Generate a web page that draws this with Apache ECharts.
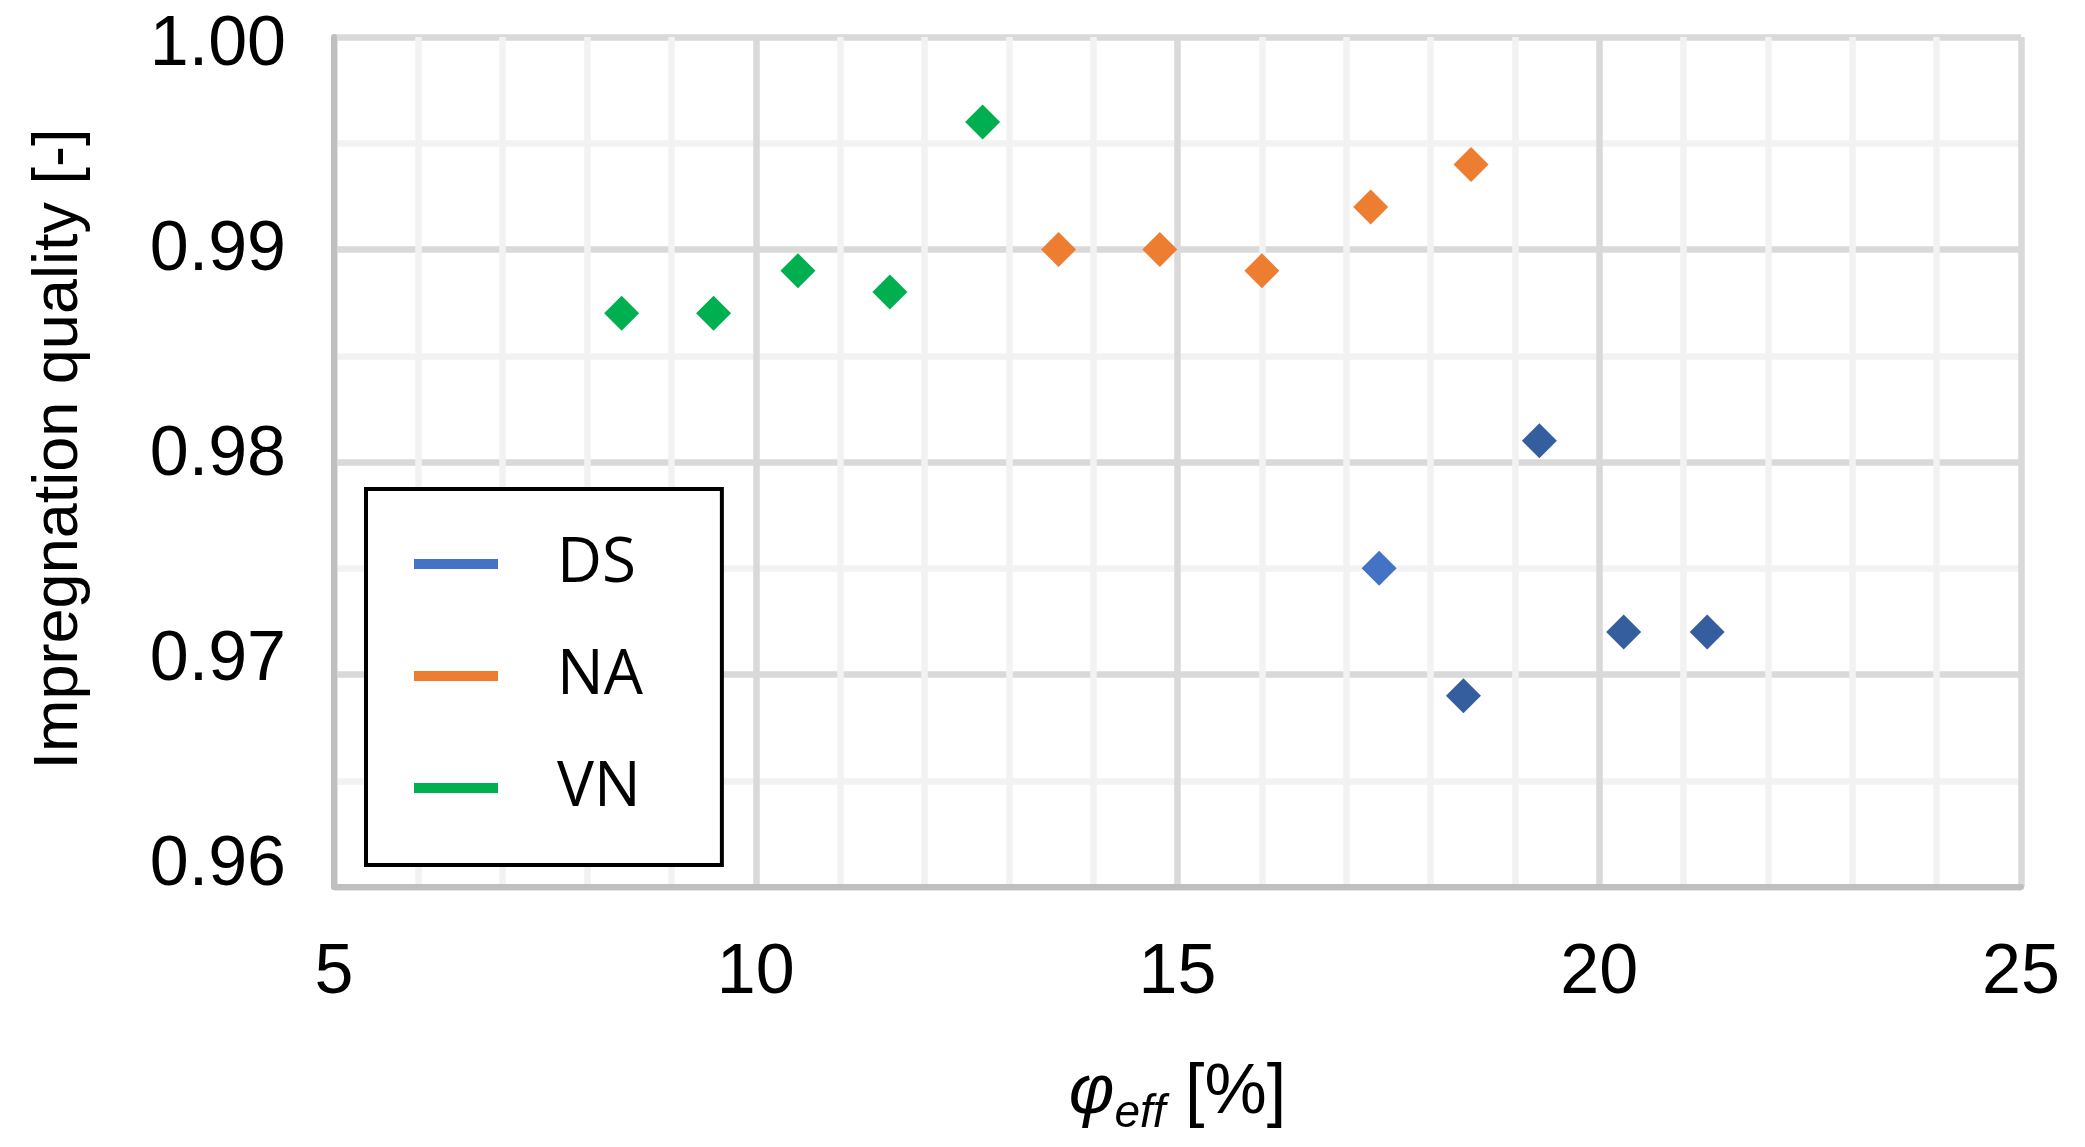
<!DOCTYPE html>
<html>
<head>
<meta charset="utf-8">
<script src="https://cdn.jsdelivr.net/npm/echarts@6/dist/echarts.min.js"></script>
<style>
html,body{margin:0;padding:0;background:#fff;}
#chart{width:2085px;height:1147px;}
</style>
</head>
<body>
<div id="chart"></div>
<script>
// ---- data ----
const seriesNames = ['DS', 'NA', 'VN'];
const dsX = [17.39, 19.29, 18.39, 20.29, 21.28];
const dsY = [0.975, 0.981, 0.969, 0.972, 0.972];
const naX = [13.59, 14.79, 16.00, 17.29, 18.48];
const naY = [0.990, 0.990, 0.989, 0.992, 0.994];
const vnX = [8.41, 9.50, 10.50, 11.59, 12.69];
const vnY = [0.987, 0.987, 0.989, 0.988, 0.996];
const xTicks = [5, 10, 15, 20, 25];
const yTicks = [0.96, 0.97, 0.98, 0.99, 1.00];

const pairs = (xs, ys) => xs.map((x, i) => [x, ys[i]]);

const FONT = "'Liberation Sans', Arial, sans-serif";
const MAJOR = '#d9d9d9', MINOR = '#f2f2f2', AXIS = '#bfbfbf';
const C_DS = '#4472C4', C_DS_DARK = '#355E9E', C_NA = '#ED7D31', C_VN = '#00B050';

// y tick labels in the reference sit slightly inward from their grid lines
const yLabelShift = [-21, -13.5, -6, 1.5, 9]; // px, positive = down
const yRich = {};
yLabelShift.forEach((s, i) => {
  yRich['l' + i] = {
    fontFamily: FONT, fontSize: 70, color: '#000', lineHeight: 70,
    padding: s >= 0 ? [2 * s, 0, 0, 0] : [0, 0, -2 * s, 0]
  };
});

const chart = echarts.init(document.getElementById('chart'), null, {renderer: 'canvas'});
chart.setOption({
  animation: false,
  backgroundColor: '#fff',
  grid: {left: 334, right: 64, top: 37, bottom: 260, containLabel: false, outerBoundsMode: 'none'},
  legend: {
    orient: 'vertical',
    left: 366, top: 489,
    padding: [44, 79, 46, 48],
    itemGap: 50,
    itemWidth: 84, itemHeight: 10,
    backgroundColor: '#fff',
    borderColor: '#000', borderWidth: 4, borderRadius: 0,
    itemStyle: {opacity: 1},
    data: seriesNames.map(n => ({name: n, icon: 'rect'})),
    textStyle: {fontFamily: "'Open Sans', " + FONT, fontSize: 62, color: '#000',
                lineHeight: 48, padding: [14, 0, 0, 54]}
  },
  xAxis: {
    type: 'value', min: xTicks[0], max: xTicks[xTicks.length - 1], interval: 5,
    name: '{phi|φ}{sub|eff}{br| [%]}',
    nameLocation: 'middle', nameGap: 174,
    nameTextStyle: {
      fontFamily: FONT, color: '#000',
      rich: {
        phi: {fontFamily: FONT, fontSize: 70, fontStyle: 'italic', color: '#000', lineHeight: 76, padding: [0, 0, 8, 0], verticalAlign: 'bottom'},
        sub: {fontFamily: FONT, fontSize: 46, fontStyle: 'italic', color: '#000', lineHeight: 52, verticalAlign: 'bottom'},
        br:  {fontFamily: FONT, fontSize: 70, color: '#000', lineHeight: 76, padding: [0, 0, 8, 0], verticalAlign: 'bottom'}
      }
    },
    axisLine: {show: true, onZero: false, lineStyle: {color: AXIS, width: 6}},
    axisTick: {show: false},
    axisLabel: {fontFamily: FONT, fontSize: 70, color: '#000', margin: 52},
    splitLine: {show: true, lineStyle: {color: MAJOR, width: 6.5}},
    minorTick: {show: false, splitNumber: 5},
    minorSplitLine: {show: true, lineStyle: {color: MINOR, width: 6.5}}
  },
  yAxis: {
    type: 'value', min: yTicks[0], max: yTicks[yTicks.length - 1], interval: 0.01,
    name: 'Impregnation quality [-]',
    nameLocation: 'middle', nameGap: 243,
    nameTextStyle: {fontFamily: FONT, fontSize: 63, color: '#000', padding: [0, 0, 0, 26]},
    axisLine: {show: true, onZero: false, lineStyle: {color: AXIS, width: 6}},
    axisTick: {show: false},
    axisLabel: {
      fontFamily: FONT, fontSize: 70, color: '#000', margin: 48,
      formatter: v => {
        const i = yTicks.findIndex(t => Math.abs(t - v) < 1e-9);
        return '{l' + (i < 0 ? 0 : i) + '|' + v.toFixed(2) + '}';
      },
      rich: yRich
    },
    splitLine: {show: true, lineStyle: {color: MAJOR, width: 6.5}},
    minorTick: {show: false, splitNumber: 2},
    minorSplitLine: {show: true, lineStyle: {color: MINOR, width: 6.5}}
  },
  series: [
    {name: 'DS', type: 'scatter', symbol: 'diamond', symbolSize: 35, color: C_DS,
     itemStyle: {opacity: 1, color: p => p.dataIndex === 0 ? C_DS : C_DS_DARK},
     data: pairs(dsX, dsY), z: 5},
    {name: 'NA', type: 'scatter', symbol: 'diamond', symbolSize: 35, color: C_NA,
     itemStyle: {opacity: 1, color: C_NA}, data: pairs(naX, naY), z: 5},
    {name: 'VN', type: 'scatter', symbol: 'diamond', symbolSize: 35, color: C_VN,
     itemStyle: {opacity: 1, color: C_VN}, data: pairs(vnX, vnY), z: 5}
  ]
});
</script>
</body>
</html>
